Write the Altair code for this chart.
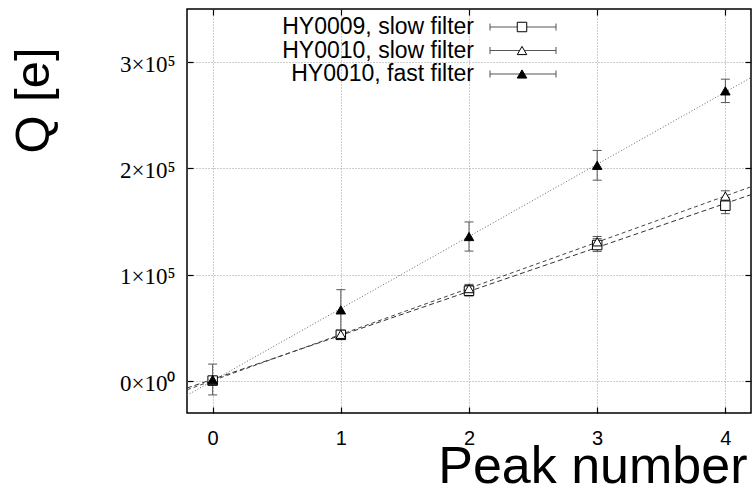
import altair as alt
import pandas as pd

# ---- data ----
peaks = [0, 1, 2, 3, 4]
series_names = ["HY0009, slow filter", "HY0010, slow filter", "HY0010, fast filter"]
hy0009_slow = [500, 43500, 85000, 128000, 165000]
hy0009_slow_err = [2500, 3000, 5000, 6000, 7500]
hy0010_slow = [500, 44000, 87000, 131000, 174000]
hy0010_slow_err = [2000, 3000, 4000, 5000, 5000]
hy0010_fast = [1500, 67000, 136000, 203000, 273000]
hy0010_fast_err = [14500, 19000, 13700, 14000, 11000]

x_ticks = [0, 1, 2, 3, 4]
y_tick_values = [0, 100000, 200000, 300000]
y_tick_labels = ["0×10⁰", "1×10⁵", "2×10⁵", "3×10⁵"]

rows = []
for name, vals, errs in [
    (series_names[0], hy0009_slow, hy0009_slow_err),
    (series_names[1], hy0010_slow, hy0010_slow_err),
    (series_names[2], hy0010_fast, hy0010_fast_err),
]:
    for p, v, e in zip(peaks, vals, errs):
        rows.append({"series": name, "peak": p, "q": v, "lo": v - e, "hi": v + e})
df = pd.DataFrame(rows)
leg = pd.DataFrame({"series": series_names})

W, H = 564, 404
xs = alt.Scale(domain=[-0.2, 4.2], nice=False, zero=False)
ys = alt.Scale(domain=[-30000, 350000], nice=False, zero=False)
shape_s = alt.Scale(domain=series_names, range=["square", "triangle-up", "triangle-up"])
fill_s = alt.Scale(domain=series_names, range=["white", "white", "black"])
dash_s = alt.Scale(domain=series_names, range=[[5, 3], [4, 3], [1, 2]])
col_s = alt.Scale(domain=series_names, range=["#333333", "#444444", "#666666"])

label_expr = "''"
for v, l in zip(reversed(y_tick_values), reversed(y_tick_labels)):
    label_expr = f"datum.value == {v} ? '{l}' : ({label_expr})"

def inner_axis(orient):
    return alt.Axis(orient=orient, offset=-6, labels=False, ticks=True, tickSize=6,
                    tickColor="black", tickWidth=1.2, domain=False, grid=False, title=None,
                    values=(x_ticks if orient in ("top", "bottom") else y_tick_values))

base = alt.Chart(df)

fits = base.transform_regression("peak", "q", groupby=["series"], extent=[-0.2, 4.2]).mark_line(
    strokeWidth=1, clip=True
).encode(
    x=alt.X("peak:Q", scale=xs, axis=alt.Axis(
        orient="bottom", values=x_ticks, ticks=False, domain=False, grid=True,
        gridColor="#9a9a9a", gridDash=[1, 2], gridWidth=1,
        labelFont="Liberation Sans", labelFontSize=20, labelColor="black", labelPadding=15,
        title="Peak number", titleFont="Liberation Sans", titleFontSize=52,
        titleFontWeight="normal", titleColor="black", titleAlign="right",
        titleBaseline="alphabetic", titleX=560, titleY=69, titleAngle=0)),
    y=alt.Y("q:Q", scale=ys, axis=alt.Axis(
        orient="left", values=y_tick_values, labelExpr=label_expr, ticks=False, domain=False,
        grid=True, gridColor="#9a9a9a", gridDash=[1, 2], gridWidth=1,
        labelFont="Liberation Serif", labelFontSize=23, labelColor="black", labelPadding=12,
        labelBaseline="middle", labelOffset=2,
        title="Q [e]", titleFont="Liberation Sans", titleFontSize=49, titleFontWeight="normal",
        titleColor="black", titleAngle=-90, titleAlign="center", titleBaseline="alphabetic",
        titleX=-139, titleY=91)),
    detail="series:N",
    strokeDash=alt.StrokeDash("series:N", scale=dash_s, legend=None),
    color=alt.Color("series:N", scale=col_s, legend=None),
)

bars = base.mark_rule(color="#555555", strokeWidth=1).encode(
    x=alt.X("peak:Q", scale=xs, axis=inner_axis("bottom")),
    y=alt.Y("lo:Q", scale=ys, axis=inner_axis("left")),
    y2="hi:Q",
)
cap_lo = base.mark_tick(orient="horizontal", size=9, thickness=1, color="#555555", opacity=1).encode(
    x=alt.X("peak:Q", scale=xs, axis=None), y=alt.Y("lo:Q", scale=ys, axis=None))
cap_hi = base.mark_tick(orient="horizontal", size=9, thickness=1, color="#555555", opacity=1).encode(
    x=alt.X("peak:Q", scale=xs, axis=None), y=alt.Y("hi:Q", scale=ys, axis=None))

pts = base.mark_point(filled=True, stroke="black", strokeWidth=1, opacity=1, size=90).encode(
    x=alt.X("peak:Q", scale=xs, axis=inner_axis("top")),
    y=alt.Y("q:Q", scale=ys, axis=inner_axis("right")),
    shape=alt.Shape("series:N", scale=shape_s, legend=None),
    fill=alt.Fill("series:N", scale=fill_s, legend=None),
)

main = alt.layer(fits, bars, cap_lo, cap_hi, pts).resolve_axis(x="independent", y="independent")

ly = alt.Y("series:N", scale=alt.Scale(type="point", domain=series_names, range=[18, 65], padding=0), axis=None)
lb = alt.Chart(leg)
leg_text = lb.mark_text(align="right", baseline="middle", font="Liberation Sans", fontSize=23,
                        color="black").encode(x=alt.value(287), y=ly, text="series:N")
leg_line = lb.mark_rule(color="#555555", strokeWidth=1).encode(
    x=alt.value(303), x2=alt.value(369), y=ly)
leg_c1 = lb.mark_tick(orient="vertical", size=7, thickness=1, color="#555555", opacity=1).encode(
    x=alt.value(303), y=ly)
leg_c2 = lb.mark_tick(orient="vertical", size=7, thickness=1, color="#555555", opacity=1).encode(
    x=alt.value(369), y=ly)
leg_pt = lb.mark_point(filled=True, stroke="black", strokeWidth=1, opacity=1, size=90).encode(
    x=alt.value(335), y=ly,
    shape=alt.Shape("series:N", scale=shape_s, legend=None),
    fill=alt.Fill("series:N", scale=fill_s, legend=None),
)
legend = alt.layer(leg_text, leg_line, leg_c1, leg_c2, leg_pt)

chart = alt.layer(main, legend).resolve_scale(y="independent").properties(
    width=W, height=H,
    autosize=alt.AutoSizeParams(type="none"),
    padding={"left": 187, "top": 9, "right": 2, "bottom": 79},
    background="white",
).configure_view(stroke="black", strokeWidth=1.5)

chart.save("out.html", embed_options={"renderer": "svg", "actions": False})
